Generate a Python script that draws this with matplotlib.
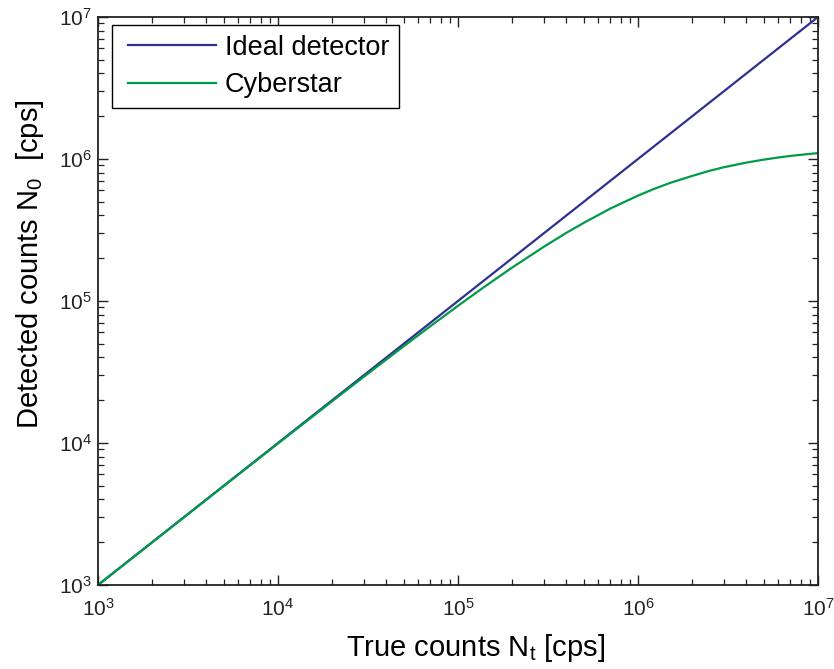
import matplotlib
matplotlib.use("Agg")
import matplotlib.pyplot as plt
from matplotlib.legend_handler import HandlerLine2D

plt.rcParams['font.family'] = ['Liberation Sans', 'DejaVu Sans']
plt.rcParams['mathtext.fontset'] = 'custom'
plt.rcParams['mathtext.rm'] = 'Liberation Sans'
plt.rcParams['mathtext.it'] = 'Liberation Sans:italic'
plt.rcParams['mathtext.bf'] = 'Liberation Sans:bold'

# Data
true_counts = [1e3, 2e3, 5e3, 1e4, 2e4, 3e4, 5e4, 7e4, 1e5, 1.4e5, 2e5, 3e5,
               4e5, 5e5, 7e5, 1e6, 1.2e6, 1.5e6, 2e6, 2.5e6, 3e6, 4e6, 5e6,
               6e6, 7e6, 8.5e6, 1e7]
ideal_counts = list(true_counts)
cyberstar_counts = [999, 1997, 4980, 9920, 19680, 29290, 48040, 66240, 92500,
                    125700, 172000, 241000, 302000, 355000, 447000, 552000,
                    608500, 677000, 760000, 826000, 875000, 943000, 990000,
                    1024000, 1050000, 1078000, 1100000]

fig = plt.figure(figsize=(8.34, 6.69), dpi=100)
ax = fig.add_axes([0.1175, 0.1256, 0.8633, 0.849])

ax.plot(true_counts, ideal_counts, color='#2E3192', lw=1.6, label='Ideal detector')
ax.plot(true_counts, cyberstar_counts, color='#009B48', lw=1.6, label='Cyberstar')

ax.set_xscale('log')
ax.set_yscale('log')
ax.set_xlim(1e3, 1e7)
ax.set_ylim(1e3, 1e7)

ax.tick_params(which='both', direction='in', top=True, right=True, labelsize=15,
               colors='#222222')
ax.tick_params(which='major', length=7, width=1.0)
ax.tick_params(which='minor', length=4, width=0.9)
ax.tick_params(axis='x', which='major', pad=9)
ax.tick_params(axis='y', which='major', pad=4.5)
for s in ax.spines.values():
    s.set_linewidth(1.3)
    s.set_color('#222222')

ax.set_xlabel('True counts N$_\\mathregular{t}$ [cps]', fontsize=21)
ax.set_ylabel('Detected counts N$_\\mathregular{0}$  [cps]', fontsize=21)
ax.xaxis.set_label_coords(0.525, -0.083)
ax.yaxis.set_label_coords(-0.072, 0.564)

hm = {ln: HandlerLine2D(xpad=0.24) for ln in ax.get_lines()}
leg = ax.legend(loc='upper left', bbox_to_anchor=(0.019, 0.986), borderaxespad=0,
                fontsize=19.5, frameon=True, fancybox=False, edgecolor='black',
                framealpha=1, handlelength=3.49, handletextpad=0.33,
                labelspacing=0.43, borderpad=0.36, handler_map=hm)
leg.get_frame().set_linewidth(1.0)

fig.savefig('out.png', dpi=100)
